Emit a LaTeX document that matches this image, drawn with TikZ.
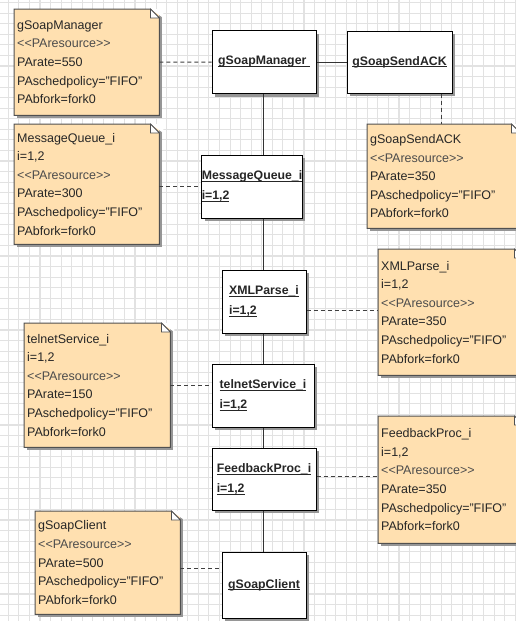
\documentclass[tikz,border=0pt]{standalone}
\usepackage{fontspec}
\setmainfont{Liberation Sans}
\usetikzlibrary{shadows}
\definecolor{notefill}{RGB}{255,224,176}
\definecolor{gridcol}{RGB}{226,226,226}
\definecolor{notedraw}{RGB}{80,80,80}
\definecolor{shadowcol}{RGB}{150,150,150}
\newcommand{\umlul}[1]{\setbox0\hbox{#1}\rlap{\rule[-2.2pt]{\wd0}{0.9pt}}\box0}
\newcommand{\pares}{{\color{black!70}<{}<PAresource>{}>}}
\tikzset{
  gridline/.style={draw=gridcol, line width=1.1pt},
  umlnote/.style={fill=notefill, anchor=north west, inner xsep=3pt, inner ysep=0pt,
    align=left, text=black!85, font=\fontsize{12.5}{18.6}\selectfont,
    drop shadow={shadow xshift=3pt, shadow yshift=-3pt, opacity=1, fill=shadowcol}},
  umlbox/.style={draw=black, fill=white, line width=1pt, inner sep=0pt, align=left,
    minimum height=63pt, font=\fontsize{12.3}{20}\selectfont\bfseries, text=black!85,
    drop shadow={shadow xshift=3pt, shadow yshift=-3pt, opacity=1, fill=shadowcol}},
  conn/.style={draw=black!80, line width=1pt},
  dashline/.style={draw=black!75, line width=1pt, dash pattern=on 4pt off 3pt},
}
\begin{document}
\begin{tikzpicture}[x=1pt,y=-1pt]
\useasboundingbox (0,0) rectangle (516,621);
\clip (0,0) rectangle (516,621);
\fill[white] (0,0) rectangle (516,621);
\foreach \k in {0,...,49} { \draw[gridline] ({8.3+10.56*\k},0) -- ({8.3+10.56*\k},621); }
\foreach \k in {0,...,59} { \draw[gridline] (0,{2.6+10.56*\k}) -- (516,{2.6+10.56*\k}); }

% notes
\node[umlnote, minimum width=145pt, minimum height=106pt, text width=139pt] (nGSM) at (14,9)
  {gSoapManager\\\pares\\PArate=550\\PAschedpolicy="FIFO"\\PAbfork=fork0};
\node[umlnote, minimum width=153pt, minimum height=104pt, text width=147pt] (nGSA) at (367,124)
  {gSoapSendACK\\\pares\\PArate=350\\PAschedpolicy="FIFO"\\PAbfork=fork0};
\node[umlnote, minimum width=145pt, minimum height=120pt, text width=139pt] (nMQ) at (14,124)
  {MessageQueue\_i\\i=1,2\\\pares\\PArate=300\\PAschedpolicy="FIFO"\\PAbfork=fork0};
\node[umlnote, minimum width=145pt, minimum height=126pt, text width=139pt] (nXML) at (378,249)
  {XMLParse\_i\\i=1,2\\\pares\\PArate=350\\PAschedpolicy="FIFO"\\PAbfork=fork0};
\node[umlnote, minimum width=146pt, minimum height=124pt, text width=140pt] (nTS) at (24,323)
  {telnetService\_i\\i=1,2\\\pares\\PArate=150\\PAschedpolicy="FIFO"\\PAbfork=fork0};
\node[umlnote, minimum width=145pt, minimum height=127pt, text width=139pt] (nFB) at (378,416)
  {FeedbackProc\_i\\i=1,2\\\pares\\PArate=350\\PAschedpolicy="FIFO"\\PAbfork=fork0};
\node[umlnote, minimum width=145pt, minimum height=103pt, text width=139pt] (nGC) at (35,511)
  {gSoapClient\\\pares\\PArate=500\\PAschedpolicy="FIFO"\\PAbfork=fork0};

\foreach \n in {nGSM,nGSA,nMQ,nXML,nTS,nFB,nGC} {
  \fill[white] ([xshift=-9pt]\n.north east) -- ([xshift=4pt]\n.north east) -- ([xshift=4pt,yshift=-9pt]\n.north east) -- cycle;
  \draw[draw=notedraw, line width=1pt]
    (\n.north west) -- ([xshift=-9pt]\n.north east) -- ([yshift=-9pt]\n.north east)
    -- (\n.south east) -- (\n.south west) -- cycle;
  \filldraw[fill=white, draw=notedraw, line width=0.8pt]
    ([xshift=-9pt]\n.north east) -- ([xshift=-9pt,yshift=-9pt]\n.north east) -- ([yshift=-9pt]\n.north east) -- cycle;
}

% boxes
\node[umlbox, minimum width=104pt] (gsm) at (264,62) {\umlul{gSoapManager\ }};
\node[umlbox, minimum width=105pt, minimum height=62pt] (gsa) at (399.5,62) {\umlul{gSoapSendACK}};
\node[umlbox, minimum width=100pt] (mq) at (252,186.5) {\umlul{MessageQueue\_i}\\\umlul{i=1,2}};
\node[umlbox, minimum width=84pt] (xml) at (264,301.5) {\umlul{XMLParse\_i}\\\umlul{i=1,2}};
\node[umlbox, minimum width=102pt] (ts) at (263,395.5) {\umlul{telnetService\_i}\\\umlul{i=1,2}};
\node[umlbox, minimum width=104pt, minimum height=62pt] (fb) at (264,479) {\umlul{FeedbackProc\_i}\\\umlul{i=1,2}};
\node[umlbox, minimum width=84pt, minimum height=66pt] (gc) at (264,585) {\umlul{gSoapClient}};

% connectors
\coordinate (spine) at (263,0);
\draw[conn] (gsm.east) -- (gsa.west);
\draw[conn] (gsm.south -| spine) -- (mq.north -| spine);
\draw[conn] (mq.south -| spine) -- (xml.north -| spine);
\draw[conn] (xml.south -| spine) -- (ts.north -| spine);
\draw[conn] (ts.south -| spine) -- (fb.north -| spine);
\draw[conn] (fb.south -| spine) -- (gc.north -| spine);

\coordinate (ackx) at (441,0);
\coordinate (xmly) at (0,310);
\coordinate (fby) at (0,476);
\coordinate (gcy) at (0,568);
\draw[dashline] (nGSM.east) -- (gsm.west);
\draw[dashline] (gsa.south -| ackx) -- (nGSA.north -| ackx);
\draw[dashline] (nMQ.east |- mq.west) -- (mq.west);
\draw[dashline] (xml.east |- xmly) -- (nXML.west |- xmly);
\draw[dashline] (nTS.east) -- (nTS.east -| ts.west);
\draw[dashline] (fb.east |- fby) -- (nFB.west |- fby);
\draw[dashline] (nGC.east |- gcy) -- (gc.west |- gcy);
\end{tikzpicture}
\end{document}
